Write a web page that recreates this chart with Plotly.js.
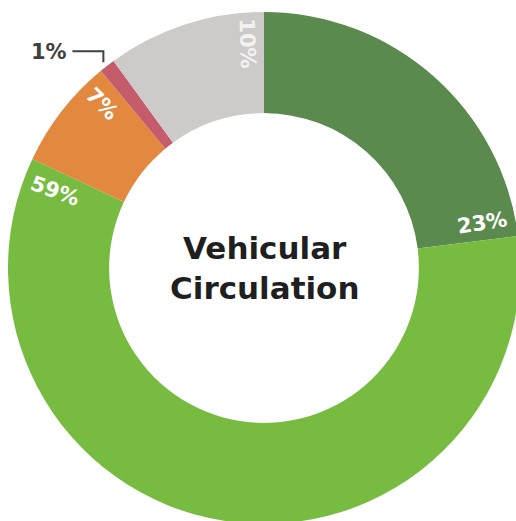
<!DOCTYPE html>
<html>
<head>
<meta charset="utf-8">
<script src="https://cdn.plot.ly/plotly-3.0.1.min.js"></script>
<style>
html,body{margin:0;padding:0;overflow:hidden;background:#fff;}
#chart{width:520px;height:524px;}
</style>
</head>
<body>
<div id="chart"></div>
<script>
// Data
const categories = ["Segment A", "Segment B", "Segment C", "Segment D", "Segment E"];
const values = [23, 59, 7, 1, 10];
const valueLabels = ["23%", "59%", "7%", "1%", "10%"];
const centerTitle = "Vehicular<br>Circulation";

// Style
const FONT = "'DejaVu Sans', Verdana, sans-serif";
const colors = ["#5b8a4e", "#77bc41", "#e3893f", "#c55c6c", "#cccbc9"];
const labelColors = ["#ffffff", "#ffffff", "#ffffff", "#404040", "#f2f2f2"];
const labelFrac = [0.945, 0.977, 0.80, 0.45, 0.88];   // position along slice
const labelRad = [0.87, 0.87, 0.90, null, 0.88];      // fraction of outer radius
const labelAngle = [-9, 20, 45, 0, 88];
const W = 520, H = 524, ML = 8, MT = 12, PLOT = 512;
const R = PLOT / 2;

const total = values.reduce((a, b) => a + b, 0);
const annotations = [];
const shapes = [];
let cum = 0;
values.forEach((v, i) => {
  const start = cum / total * 360;
  const span = v / total * 360;
  cum += v;
  const ang = (start + labelFrac[i] * span) * Math.PI / 180;
  if (labelRad[i] !== null) {
    const r = labelRad[i] * R;
    annotations.push({
      xref: "paper", yref: "paper",
      x: 0.5 + r * Math.sin(ang) / PLOT,
      y: 0.5 + r * Math.cos(ang) / PLOT,
      text: "<b>" + valueLabels[i] + "</b>",
      showarrow: false, textangle: labelAngle[i],
      font: {family: FONT, size: 21, color: labelColors[i]},
      xanchor: "center", yanchor: "middle"
    });
  } else {
    // outside label with elbow leader line
    const rr = R + 5;
    const ex = 0.5 + rr * Math.sin(ang) / PLOT;
    const ey = 0.5 + rr * Math.cos(ang) / PLOT;
    const ky = ey + 11 / PLOT;
    const lx = ex - 31 / PLOT;
    shapes.push({type: "path", xref: "paper", yref: "paper",
      path: `M ${ex} ${ey} L ${ex} ${ky} L ${lx} ${ky}`,
      line: {color: labelColors[i], width: 2}});
    annotations.push({
      xref: "paper", yref: "paper", x: lx - 3 / PLOT, y: ky - 1 / PLOT,
      text: "<b>" + valueLabels[i] + "</b>", showarrow: false,
      font: {family: FONT, size: 21, color: labelColors[i]},
      xanchor: "right", yanchor: "middle"
    });
  }
});

annotations.push({
  xref: "paper", yref: "paper", x: 0.5, y: 0.5,
  text: "<b>" + centerTitle + "</b>", showarrow: false,
  font: {family: FONT, size: 31, color: "#1f1f1f"},
  xanchor: "center", yanchor: "middle"
});

const trace = {
  type: "pie",
  labels: categories,
  values: values,
  sort: false,
  direction: "clockwise",
  rotation: 0,
  hole: 0.605,
  textinfo: "none",
  hoverinfo: "none",
  marker: {colors: colors, line: {width: 0}}
};

Plotly.newPlot("chart", [trace], {
  width: W, height: H,
  margin: {l: ML, r: W - ML - PLOT, t: MT, b: H - MT - PLOT, pad: 0},
  showlegend: false,
  paper_bgcolor: "#ffffff",
  annotations: annotations,
  shapes: shapes
}, {displayModeBar: false, staticPlot: true});
</script>
</body>
</html>
